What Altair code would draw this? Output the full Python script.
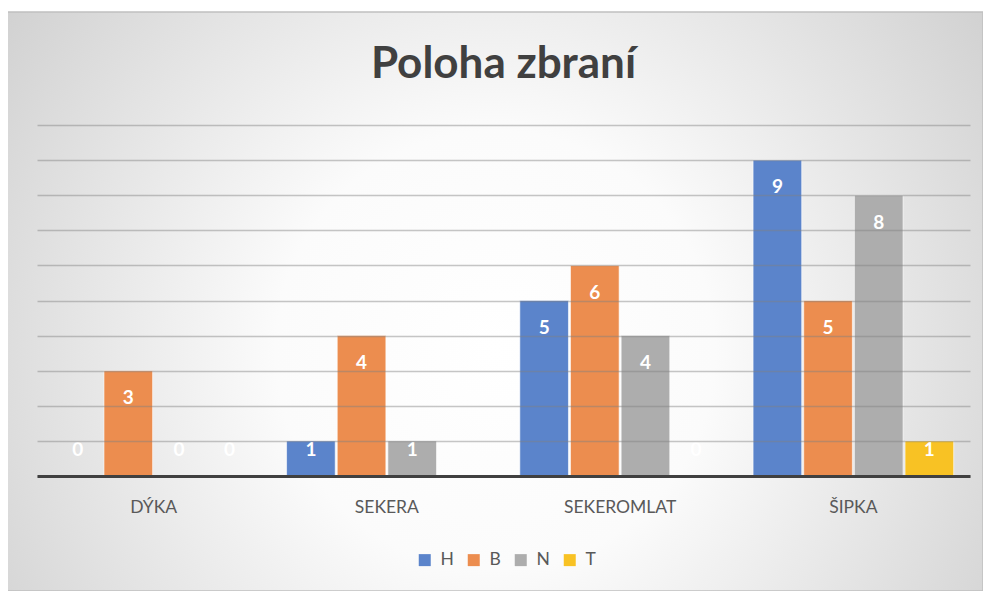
import altair as alt
import pandas as pd

categories = ["DÝKA", "SEKERA", "SEKEROMLAT", "ŠIPKA"]
series = ["H", "B", "N", "T"]
values_H = [0, 1, 5, 9]
values_B = [3, 4, 6, 5]
values_N = [0, 1, 4, 8]
values_T = [0, None, 0, 1]
colors = ["#5b84cb", "#ec8d4f", "#adadad", "#f8c224"]
title_text = "Poloha zbraní"

rows = []
for s, vals in zip(series, [values_H, values_B, values_N, values_T]):
    for c, v in zip(categories, vals):
        rows.append({"kat": c, "serie": s, "v": v})
df = pd.DataFrame(rows)

W, H = 933, 351
FONT = "Lato"

one = alt.Data(values=[{}])

bg = alt.Chart(one).mark_rect(
    fill=alt.Gradient(
        gradient="radial",
        x1=0.5, y1=0.55, r1=0.0,
        x2=0.5, y2=0.55, r2=0.75,
        stops=[alt.GradientStop(offset=0, color="#ffffff"),
               alt.GradientStop(offset=0.3, color="#fbfbfb"),
               alt.GradientStop(offset=1, color="#c2c2c2")],
    ),
    stroke="#c0c0c0",
    strokeWidth=1.5,
).encode(
    x=alt.value(-30), x2=alt.value(W + 13),
    y=alt.value(-113), y2=alt.value(H + 115),
)

title = alt.Chart(one).mark_text(
    font=FONT, fontSize=44, fontWeight="bold", color="#404040",
    align="center", baseline="alphabetic",
).encode(
    x=alt.value(W / 2), y=alt.value(-47), text=alt.value(title_text),
)

base = alt.Chart(df).transform_filter("isValid(datum.v)")

xenc = alt.X("kat:N", sort=categories,
             scale=alt.Scale(paddingInner=0.14, paddingOuter=0.07),
             axis=alt.Axis(title=None, labelAngle=0, labelFont=FONT, labelFontSize=17.5,
                           labelColor="#595959", labelPadding=22, ticks=False,
                           domainColor="#404040", domainWidth=3, grid=False, zindex=1))
xoff = alt.XOffset("serie:N", sort=series, scale=alt.Scale(paddingInner=0.04, paddingOuter=0))

yaxis = alt.Axis(title=None, labels=False, ticks=False, domain=False,
                 values=list(range(0, 11)), gridColor="#808080",
                 gridOpacity=0.45, gridWidth=1.5, zindex=1)

bars = base.mark_bar(stroke="#ffffff", strokeWidth=1, strokeOpacity=0.6).encode(
    x=xenc,
    xOffset=xoff,
    y=alt.Y("v:Q", scale=alt.Scale(domain=[0, 10]), axis=yaxis),
    color=alt.Color("serie:N", sort=series,
                    scale=alt.Scale(domain=series, range=colors),
                    legend=alt.Legend(title=None, orient="none", direction="horizontal",
                                      legendX=379, legendY=426, symbolType="square",
                                      symbolSize=144, symbolStrokeWidth=0,
                                      labelFont=FONT, labelFontSize=17.5,
                                      labelColor="#595959", labelOffset=7,
                                      columnPadding=11)),
)

labels = base.transform_calculate(
    ly="max(datum.v - 0.78, 0.74)"
).mark_text(font=FONT, fontSize=19, fontWeight="bold", color="#ffffff",
            baseline="middle").encode(
    x=alt.X("kat:N", sort=categories),
    xOffset=xoff,
    y=alt.Y("ly:Q", scale=alt.Scale(domain=[0, 10]), axis=yaxis),
    text=alt.Text("v:Q", format="d"),
)

chart = alt.layer(bg, title, bars, labels).properties(
    width=W, height=H,
    autosize=alt.AutoSizeParams(type="none"),
    padding={"left": 29, "top": 117, "right": 13, "bottom": 115},
).configure_view(stroke=None).configure(background="#ffffff")

chart.save("out.html", embed_options={"renderer": "svg", "actions": False})
